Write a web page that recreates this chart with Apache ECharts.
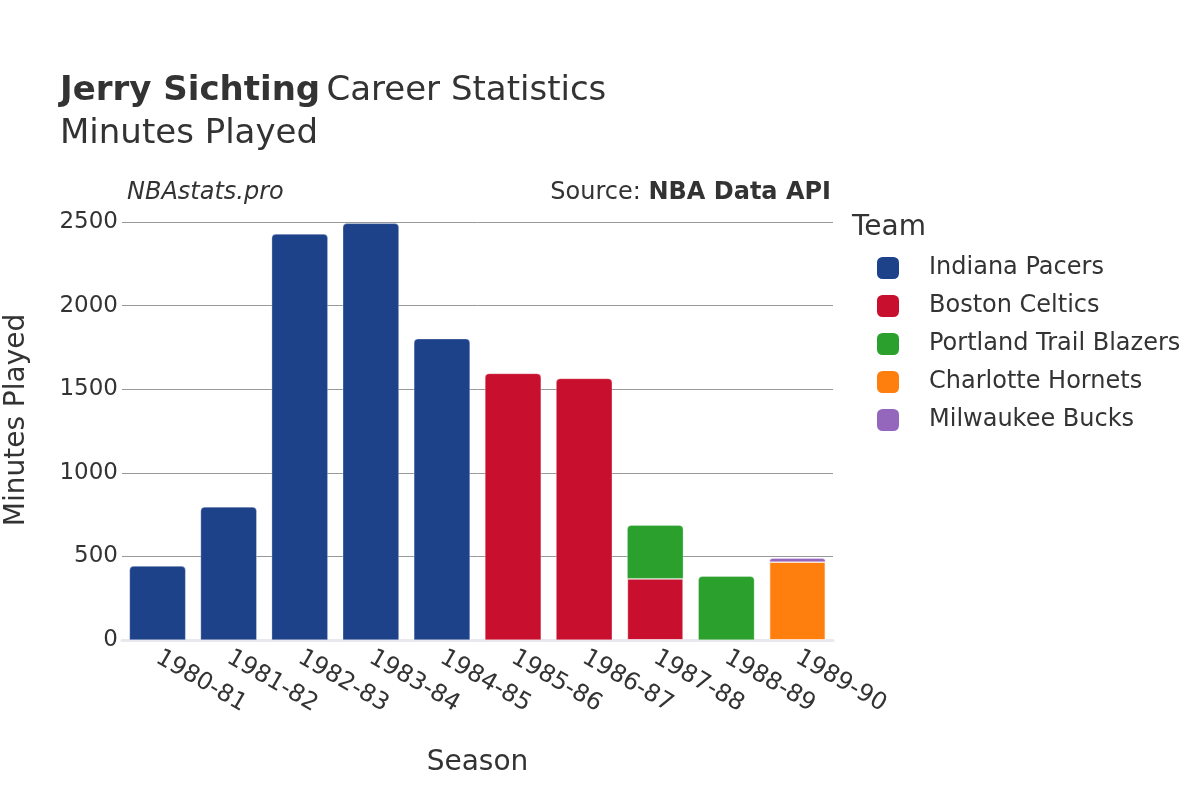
<!DOCTYPE html>
<html>
<head>
<meta charset="utf-8">
<script src="https://cdn.jsdelivr.net/npm/echarts@6/dist/echarts.min.js"></script>
<style>html,body{margin:0;padding:0;background:#fff}#c{width:1200px;height:800px}</style>
</head>
<body>
<div id="c"></div>
<script>
const seasons = ['1980-81','1981-82','1982-83','1983-84','1984-85','1985-86','1986-87','1987-88','1988-89','1989-90'];
const teams = ['Indiana Pacers','Boston Celtics','Portland Trail Blazers','Charlotte Hornets','Milwaukee Bucks'];
const teamColors = ['#1d428a','#c8102e','#2ca02c','#ff7f0e','#9467bd'];
const indiana   = [442, 796, 2428, 2492, 1802, null, null, null, null, null];
const boston    = [null, null, null, null, null, 1594, 1564, 367, null, null];
const portland  = [null, null, null, null, null, null, null, 320, 381, null];
const charlotte = [null, null, null, null, null, null, null, null, null, 467];
const milwaukee = [null, null, null, null, null, null, null, null, null, 22];
const yTicks = [0, 500, 1000, 1500, 2000, 2500];

const seriesData = [indiana, boston, portland, charlotte, milwaukee];
const FONT = 'DejaVu Sans';

// top-most segment of each stack gets rounded corners
const topIdx = seasons.map((s, i) => {
  let t = -1;
  seriesData.forEach((d, k) => { if (d[i] != null && d[i] > 0) t = k; });
  return t;
});

const series = teams.map((name, k) => ({
  name,
  type: 'bar',
  stack: 'total',
  barCategoryGap: '21%',
  itemStyle: { color: teamColors[k] },
  data: seriesData[k].map((v, i) => v == null ? null : {
    value: v,
    itemStyle: {
      color: teamColors[k],
      borderRadius: topIdx[i] === k ? [4, 4, 0, 0] : 0,
      borderColor: 'rgba(255,255,255,0.6)',
      borderWidth: topIdx[i] === k ? 0.5 : 1
    }
  })
}));

const chart = echarts.init(document.getElementById('c'), null, { renderer: 'canvas' });
chart.setOption({
  animation: false,
  backgroundColor: '#fff',
  textStyle: { fontFamily: FONT },
  title: {
    left: 55, top: 65,
    text: '{b|Jerry Sichting} {n|Career Statistics}\n{n|Minutes Played}',
    textStyle: {
      rich: {
        b: { fontFamily: FONT, fontWeight: 'bold', fontSize: 34, color: '#333', lineHeight: 43 },
        n: { fontFamily: FONT, fontWeight: 'normal', fontSize: 34, color: '#333', lineHeight: 43 }
      }
    }
  },
  graphic: [
    { type: 'text', left: 127, top: 181, style: { text: 'NBAstats.pro', font: 'italic 24px "DejaVu Sans"', fill: '#333' } },
    { type: 'text', right: 1200 - 831, top: 181, style: {
        text: '{n|Source: }{b|NBA Data API}',
        fill: '#333',
        rich: {
          n: { fontFamily: FONT, fontSize: 24, fill: '#333' },
          b: { fontFamily: FONT, fontSize: 24, fontWeight: 'bold', fill: '#333' }
        }
      } },
    { type: 'text', left: 852, top: 214, style: { text: 'Team', font: '28px "DejaVu Sans"', fill: '#333' } },
    { type: 'text', x: 17, y: 420, rotation: Math.PI / 2, style: {
        text: 'Minutes Played', font: '28px "DejaVu Sans"', fill: '#333',
        align: 'center', verticalAlign: 'middle' } }
  ],
  legend: {
    orient: 'vertical',
    left: 872, top: 251,
    itemWidth: 22, itemHeight: 22, itemGap: 14,
    icon: 'roundRect',
    data: teams,
    textStyle: { fontFamily: FONT, fontSize: 24, color: '#333', padding: [0, 0, 0, 25] }
  },
  grid: { left: 122, right: 367, top: 222, bottom: 160, containLabel: false },
  xAxis: {
    type: 'category',
    data: seasons,
    name: 'Season',
    nameLocation: 'middle',
    nameGap: 109,
    nameTextStyle: { fontFamily: FONT, fontSize: 28, color: '#333' },
    axisLine: { show: true, lineStyle: { color: '#e8e8ee', width: 3 } },
    axisTick: { show: false },
    axisLabel: { rotate: -30, fontFamily: FONT, fontSize: 24, color: '#333', margin: 16 }
  },
  yAxis: {
    type: 'value',
    min: 0, max: 2500, interval: 500,
    axisLine: { show: false },
    axisTick: { show: false },
    axisLabel: { fontFamily: FONT, fontSize: 23, color: '#333', margin: 4,
      formatter: v => yTicks.includes(v) ? String(v) : '' },
    splitLine: { lineStyle: { color: '#999', width: 1 } }
  },
  series
});
</script>
</body>
</html>
